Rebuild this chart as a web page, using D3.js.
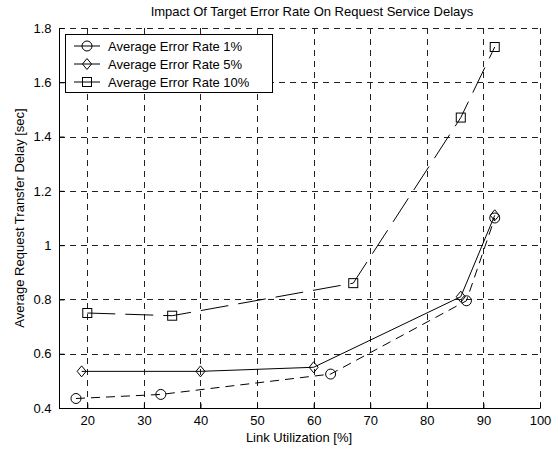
<!DOCTYPE html>
<html><head><meta charset="utf-8">
<script src="https://cdn.jsdelivr.net/npm/d3@7"></script>
<style>body{margin:0;background:#fff}svg{display:block}text{font-family:"Liberation Sans",Arial,sans-serif;fill:#000}</style>
</head><body><svg id="c" width="560" height="450"></svg>
<script>
const title = "Impact Of Target Error Rate On Request Service Delays";
const xLabel = "Link Utilization [%]";
const yLabel = "Average Request Transfer Delay [sec]";
const xTicks = [20, 30, 40, 50, 60, 70, 80, 90, 100];
const yTicks = [0.4, 0.6, 0.8, 1, 1.2, 1.4, 1.6, 1.8];
const seriesNames = ["Average Error Rate 1%", "Average Error Rate 5%", "Average Error Rate 10%"];
const x1 = [18, 33, 63, 87, 92];
const y1 = [0.435, 0.45, 0.525, 0.795, 1.10];
const x5 = [19, 40, 60, 86, 92];
const y5 = [0.535, 0.535, 0.55, 0.81, 1.11];
const x10 = [20, 35, 67, 86, 92];
const y10 = [0.75, 0.74, 0.86, 1.47, 1.73];

const L = 59, R = 540, T = 28, B = 408;
const svg = d3.select("#c");
const x = d3.scaleLinear().domain([15, 100]).range([L, R]);
const y = d3.scaleLinear().domain([0.4, 1.8]).range([B, T]);

// grid
const g = svg.append("g");
g.selectAll("line.vx").data(xTicks).join("line")
  .attr("x1", d => Math.round(x(d)) + 0.5).attr("x2", d => Math.round(x(d)) + 0.5)
  .attr("y1", B).attr("y2", T)
  .attr("stroke", "#222").attr("stroke-dasharray", "6,5");
g.selectAll("line.hy").data(yTicks).join("line")
  .attr("y1", d => Math.round(y(d)) + 0.5).attr("y2", d => Math.round(y(d)) + 0.5)
  .attr("x1", L).attr("x2", R)
  .attr("stroke", "#222").attr("stroke-dasharray", "6,5");

// axes
const xAxis = d3.axisBottom(x).tickValues(xTicks).tickSize(-5).tickPadding(7).tickFormat(d3.format("d"));
const yAxis = d3.axisLeft(y).tickValues(yTicks).tickSize(-5).tickPadding(8).tickFormat(d => d3.format("")(d));
const gx = svg.append("g").attr("transform", `translate(0,${B + 0.5})`).call(xAxis);
const gy = svg.append("g").attr("transform", `translate(${L + 0.5},0)`).call(yAxis);
[gx, gy].forEach(a => {
  a.select(".domain").attr("stroke", "#000");
  a.selectAll(".tick line").attr("stroke", "#000");
  a.selectAll(".tick text").style("font-size", "13px").attr("fill", "#000");
});
gx.select(".domain").attr("d", `M${L},0H${R}`);
gy.select(".domain").attr("d", `M0,${B}V${T}`);

// labels
svg.append("text").attr("x", 312).attr("y", 16).attr("text-anchor", "middle").style("font-size", "13px").text(title);
svg.append("text").attr("x", 299).attr("y", 442).attr("text-anchor", "middle").style("font-size", "13px").text(xLabel);
svg.append("text").attr("transform", `translate(24,${(T + B) / 2}) rotate(-90)`).attr("text-anchor", "middle").style("font-size", "13px").text(yLabel);

const series = [
  {name: seriesNames[0], xs: x1, ys: y1, dash: "9,6", marker: "circle"},
  {name: seriesNames[1], xs: x5, ys: y5, dash: null, marker: "diamond"},
  {name: seriesNames[2], xs: x10, ys: y10, dash: "28,10", marker: "square"}
];
function marker(sel, type) {
  if (type === "circle") sel.append("circle").attr("r", 5);
  else if (type === "diamond") sel.append("path").attr("d", "M0,-5.5L4.5,0L0,5.5L-4.5,0Z");
  else sel.append("rect").attr("x", -4.5).attr("y", -4.5).attr("width", 9).attr("height", 9);
  sel.selectAll("*").attr("fill", "none").attr("stroke", "#000").attr("stroke-width", 1);
}
const line = d3.line().x(d => x(d[0])).y(d => y(d[1]));
series.forEach(s => {
  const pts = s.xs.map((v, i) => [v, s.ys[i]]);
  svg.append("path").attr("d", line(pts)).attr("fill", "none").attr("stroke", "#000")
    .attr("stroke-width", 1).attr("stroke-dasharray", s.dash);
  pts.forEach(p => {
    const m = svg.append("g").attr("transform", `translate(${x(p[0])},${y(p[1])})`);
    marker(m, s.marker);
  });
});

// legend
const lg = svg.append("g");
lg.append("rect").attr("x", 65.5).attr("y", 34.5).attr("width", 207).attr("height", 58)
  .attr("fill", "#fff").attr("stroke", "#000");
series.forEach((s, i) => {
  const cy = 46 + i * 18;
  lg.append("line").attr("x1", 74).attr("x2", 100).attr("y1", cy).attr("y2", cy).attr("stroke", "#000");
  const m = lg.append("g").attr("transform", `translate(87,${cy})`);
  marker(m, s.marker);
  lg.append("text").attr("x", 108).attr("y", cy + 4.5).style("font-size", "13px").text(s.name);
});
</script></body></html>
